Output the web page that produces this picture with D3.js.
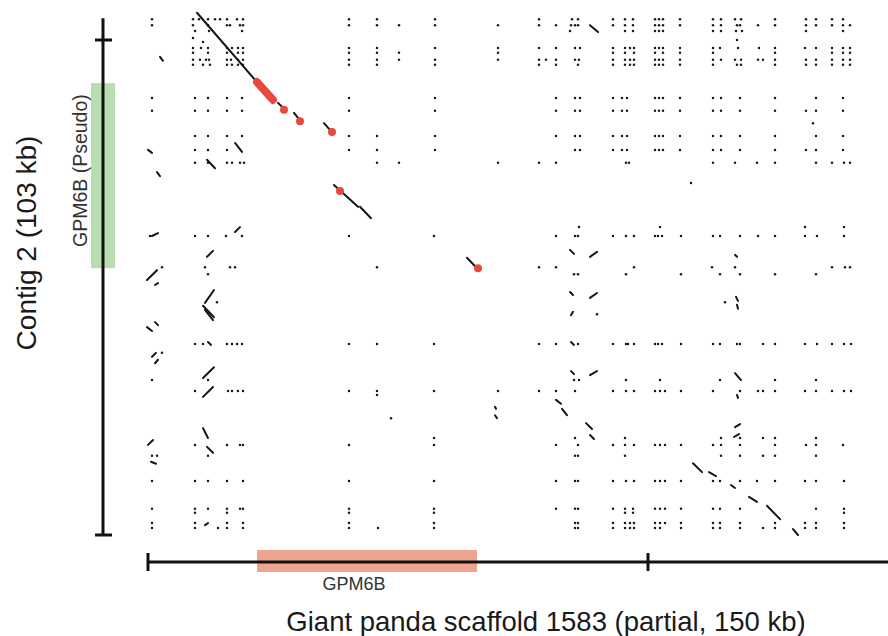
<!DOCTYPE html>
<html>
<head>
<meta charset="utf-8">
<script src="https://cdn.jsdelivr.net/npm/d3@7"></script>
<style>
  body { margin: 0; background: #fff; }
  svg { display: block; font-family: "Liberation Sans", Arial, sans-serif; }
</style>
</head>
<body>
<div id="chart"></div>
<script>
'use strict';

// All positions in kb: x = giant panda scaffold 1583, y = contig 2
const xTicks = [0, 100];
const yTicks = [0, 100];
const xAxisEnd = 150;
const yAxisEnd = 104.4;

const xTitle = 'Giant panda scaffold 1583 (partial, 150 kb)';
const yTitle = 'Contig 2 (103 kb)';

// gene annotations [start, end, label]
const xGene = [21.8, 65.8, 'GPM6B'];
const yGene = [53.9, 91.3, 'GPM6B (Pseudo)'];

// repeat hits, one row per contig position: [y, [x, x, ...]]
const topRows = [
  [104.2, [0.8, 9.0, 10.2, 12.0, 13.4, 14.4, 15.8, 17.8, 19.0, 40.2, 45.8, 57.4, 78.2, 84.8, 86.0, 93.0, 95.4, 97.0, 101.4, 102.2, 103.0, 106.4, 113.0, 114.6, 117.4, 118.6, 125.4, 131.6, 133.6, 136.8, 139.0]],
  [103.0, [0.8, 9.0, 12.0, 15.8, 16.4, 18.4, 19.0, 40.2, 45.8, 50.2, 57.4, 70.0, 78.2, 81.6, 84.6, 85.4, 86.0, 93.0, 95.4, 97.0, 101.4, 102.2, 103.0, 106.4, 113.0, 114.6, 117.8, 118.4, 122.0, 125.4, 131.6, 133.6, 136.8, 139.0, 140.4]],
  [101.8, [9.4, 12.2, 18.8, 84.4, 95.4, 97.0, 101.4, 102.2, 103.0, 113.0, 114.6, 117.6, 118.8, 131.6, 139.0]],
  [100.4, [9.0]],
  [100.0, [117.8]],
  [99.6, [11.0]],
];

const upperRows = [
  [98.4, [9.0, 10.6, 12.0, 15.8, 16.8, 18.0, 19.0, 40.2, 45.8, 57.4, 70.0, 78.2, 81.6, 85.4, 86.4, 93.0, 95.4, 96.4, 97.2, 101.4, 102.2, 103.0, 106.4, 113.0, 114.4, 118.0, 122.2, 125.4, 131.4, 133.6, 136.8, 139.0, 140.4]],
  [97.4, [9.0, 12.0, 15.8, 18.0, 19.0, 40.2, 45.8, 50.2, 70.0, 93.0, 95.4, 97.2, 101.4, 103.0, 106.4, 113.0, 125.4, 136.8, 139.0, 140.4]],
  [96.0, [9.0, 10.4, 11.6, 12.2, 15.8, 16.6, 18.0, 19.0, 40.2, 45.8, 50.2, 57.4, 70.0, 78.2, 79.6, 81.6, 85.4, 86.2, 93.0, 95.4, 96.4, 97.2, 101.4, 102.2, 103.0, 106.4, 113.0, 114.6, 117.4, 118.6, 122.0, 123.0, 125.4, 131.6, 133.6, 136.8, 139.0, 140.4]],
  [95.0, [9.0, 11.0, 12.4, 15.8, 16.8, 18.0, 19.0, 40.2, 45.8, 57.4, 78.2, 81.6, 86.0, 93.0, 95.4, 96.4, 97.2, 101.4, 102.2, 103.0, 106.4, 113.0, 117.8, 118.6, 125.4, 131.6, 133.6, 136.8, 139.0, 140.4]],
  [88.3, [0.8, 9.4, 12.0, 15.8, 18.8, 40.2, 57.4, 81.6, 85.4, 86.4, 93.0, 94.8, 95.8, 101.4, 102.2, 103.0, 106.4, 113.0, 114.6, 118.4, 125.4, 133.6, 139.0]],
  [85.7, [0.8, 9.4, 12.0, 15.8, 18.8, 40.2, 57.4, 81.6, 85.4, 86.4, 93.0, 94.8, 95.8, 101.4, 102.2, 103.0, 106.4, 113.0, 114.6, 118.4, 125.4, 131.6, 133.6, 139.0]],
  [83.2, [133.0]],
  [80.6, [9.4, 12.0, 15.8, 18.8, 40.2, 45.8, 57.4, 81.6, 85.4, 86.4, 93.0, 94.8, 95.8, 101.4, 102.2, 103.0, 106.4, 113.0, 114.6, 118.4, 125.4, 133.6, 139.0]],
  [77.8, [9.4, 12.0, 15.8, 40.2, 45.8, 57.4, 85.4, 86.4, 93.0, 94.8, 95.8, 101.4, 102.2, 103.0, 106.4, 113.0, 114.6, 118.4, 125.4, 131.6, 133.6, 139.0]],
  [75.2, [9.4, 12.0, 15.8, 16.8, 18.4, 19.2, 45.8, 50.2, 70.0, 78.2, 81.6, 95.6, 96.2, 113.0, 117.4, 121.8, 125.4, 133.6, 136.8, 139.2, 140.4]],
  [71.1, [108.6]],
];

const middleRows = [
  [62.2, [86.2, 102.4, 131.4, 139.2]],
  [60.4, [0.4, 9.4, 12.0, 15.6, 18.8, 40.2, 57.2, 81.6, 85.4, 86.0, 93.0, 95.6, 97.2, 101.4, 102.0, 102.8, 106.6, 113.0, 114.4, 118.4, 122.0, 125.4, 131.4, 133.8, 139.2]],
  [54.1, [2.8, 11.4, 16.4, 17.4, 45.8, 78.2, 81.6, 97.2, 112.8, 117.4, 136.8, 139.4, 140.4]],
  [52.7, [12.0, 85.2, 86.0, 95.6, 106.6, 114.4, 118.4, 125.4, 133.6]],
  [47.0, [13.8, 115.4]],
  [44.6, [89.8]],
  [38.6, [9.4, 11.0, 15.8, 16.8, 17.8, 18.8, 40.2, 45.8, 57.2, 78.2, 81.6, 86.0, 93.0, 95.6, 96.0, 97.2, 101.4, 102.0, 102.8, 106.6, 113.0, 114.4, 117.8, 118.4, 123.0, 125.4, 131.4, 133.8, 136.8, 139.2, 140.6]],
  [36.8, [2.8]],
  [31.3, [0.8, 12.0, 85.2, 86.2, 95.6, 102.4, 114.4, 125.4, 133.6]],
  [29.1, [9.4, 16.0, 16.8, 18.0, 19.0, 40.2, 45.8, 57.2, 70.0, 78.2, 81.6, 85.4, 93.0, 95.6, 97.2, 101.4, 102.4, 103.4, 106.6, 113.0, 118.4, 122.0, 123.0, 125.4, 131.4, 133.6, 136.8, 139.2, 140.6]],
  [28.3, [45.8]],
  [23.6, [48.6]],
];

const lowerRows = [
  [19.6, [57.2, 85.4, 95.4, 114.6, 118.4, 123.0, 125.4, 133.6]],
  [18.2, [9.4, 15.8, 18.4, 19.0, 40.2, 57.2, 81.6, 86.0, 93.0, 95.4, 97.2, 101.4, 102.4, 103.4, 106.6, 113.0, 114.6, 118.4, 125.4, 131.6, 133.6, 139.0]],
  [16.0, [0.8, 1.8, 12.0, 85.4, 86.0, 95.4, 114.6, 118.4, 123.0, 125.4, 133.6]],
  [10.9, [0.8, 9.4, 12.0, 15.8, 19.0, 40.2, 57.2, 81.6, 85.4, 86.0, 93.0, 95.6, 97.2, 101.4, 102.4, 103.4, 106.6, 113.0, 114.4, 118.4, 121.8, 125.4, 131.4, 133.6, 139.2]],
  [5.3, [0.8, 9.4, 12.0, 15.8, 18.4, 19.0, 40.2, 57.2, 81.6, 85.4, 86.0, 93.0, 95.4, 97.0, 101.4, 102.4, 103.4, 106.6, 113.0, 114.4, 118.4, 133.6, 139.2]],
  [4.5, [9.4, 15.8, 40.2, 57.2, 95.4, 97.0, 139.2]],
  [2.4, [0.8, 9.4, 15.8, 19.0, 40.2, 57.2, 85.4, 86.0, 93.0, 95.4, 96.4, 97.2, 101.4, 102.4, 103.4, 106.6, 113.0, 114.4, 118.4, 125.4, 131.4, 133.6, 139.2]],
  [1.4, [0.8, 9.4, 14.0, 15.8, 19.0, 40.2, 46.0, 57.2, 85.4, 86.0, 93.0, 95.4, 96.4, 97.2, 101.4, 102.4, 106.6, 113.0, 114.4, 118.4, 123.0, 125.4, 131.4, 133.6, 139.2]],
];

// short repeat matches [x1, y1, x2, y2]
const shortHits = [
  [88.4, 103.0, 90.0, 101.6], [2.4, 96.6, 3.0, 95.8], [11.8, 75.8, 13.4, 74.1],
  [17.4, 79.2, 18.8, 77.4], [0.0, 77.8, 0.8, 77.2], [1.8, 73.3, 2.4, 72.5],
  [0.8, 60.4, 2.0, 61.0], [17.4, 61.2, 18.4, 62.2], [-0.2, 51.5, 1.8, 53.5],
  [1.4, 50.5, 2.0, 50.9], [11.8, 56.2, 13.0, 57.4], [84.4, 57.6, 85.2, 56.8],
  [88.4, 56.2, 89.8, 57.2], [117.4, 56.6, 117.8, 56.2], [11.4, 46.9, 13.2, 49.5],
  [11.0, 46.3, 13.2, 44.0], [11.4, 45.5, 13.0, 43.4], [84.4, 49.1, 85.0, 48.5],
  [88.4, 47.9, 89.8, 48.9], [84.6, 44.4, 85.0, 45.1], [117.6, 48.1, 118.0, 47.3],
  [117.8, 46.5, 118.0, 45.7], [-0.2, 42.0, 0.8, 41.2], [1.4, 43.0, 2.0, 42.4],
  [12.0, 39.0, 12.6, 38.4], [84.6, 39.0, 85.2, 38.4], [0.8, 36.0, 1.6, 36.8],
  [1.4, 34.7, 2.0, 35.4], [11.0, 31.7, 13.2, 33.9], [11.0, 27.9, 13.0, 29.9],
  [84.6, 33.1, 85.2, 32.5], [88.4, 32.3, 89.8, 33.1], [117.4, 32.7, 118.6, 31.3],
  [117.8, 28.3, 118.0, 27.7], [0.0, 18.2, 1.0, 19.2], [11.0, 21.6, 12.0, 19.6],
  [11.8, 17.8, 13.0, 16.6], [117.4, 21.8, 118.4, 22.4], [117.2, 19.8, 118.2, 20.4],
  [11.4, 2.0, 12.0, 2.4], [0.6, 14.8, 1.6, 14.4],
];

// collinear alignment segments [x1, y1, x2, y2]
const alignments = [
  [9.8, 105.5, 21.8, 91.5], [26.0, 87.3, 27.0, 86.3], [29.2, 85.3, 30.2, 84.0],
  [35.2, 83.2, 36.6, 81.6], [37.2, 70.7, 42.0, 66.3], [42.4, 66.3, 44.6, 64.0],
  [63.8, 56.0, 65.8, 53.9],
  [69.4, 25.9, 69.6, 25.5], [69.4, 24.2, 69.8, 23.6], [81.6, 27.3, 82.6, 26.5],
  [82.8, 25.5, 83.8, 24.2], [87.6, 22.6, 88.8, 21.4], [88.4, 20.2, 89.2, 19.4],
  [109.0, 14.5, 110.8, 12.7], [112.2, 12.7, 113.6, 11.9], [116.6, 10.1, 117.4, 9.5],
  [120.2, 7.7, 121.8, 6.7], [123.8, 5.9, 126.4, 3.2], [129.0, 1.2, 130.0, 0.0],
];

// GPM6B exon matches, highlighted in red
const exonRuns = [[21.8, 91.5, 25.0, 87.9]];
const exonPoints = [[27.2, 85.9], [30.4, 83.6], [36.8, 81.4], [38.4, 69.5], [66.0, 53.9]];

const width = 888;
const height = 636;

const x = d3.scaleLinear().domain([0, 100]).range([148, 648]);
const y = d3.scaleLinear().domain([0, 100]).range([535, 40]);

const svg = d3.select('#chart')
  .append('svg')
  .attr('width', width)
  .attr('height', height)
  .style('background', '#fff');

// gene bands
svg.append('rect')
  .attr('x', 91)
  .attr('width', 24)
  .attr('y', y(yGene[1]))
  .attr('height', y(yGene[0]) - y(yGene[1]))
  .attr('fill', '#b8ddb0');

svg.append('rect')
  .attr('x', x(xGene[0]))
  .attr('width', x(xGene[1]) - x(xGene[0]))
  .attr('y', 550)
  .attr('height', 22)
  .attr('fill', '#eca58f');

// axis lines
const axisColor = '#111';
svg.append('line')
  .attr('x1', x(0)).attr('x2', x(xAxisEnd))
  .attr('y1', 562).attr('y2', 562)
  .attr('stroke', axisColor).attr('stroke-width', 3);

svg.selectAll('.x-tick')
  .data(xTicks)
  .join('line')
  .attr('class', 'x-tick')
  .attr('x1', (d) => x(d)).attr('x2', (d) => x(d))
  .attr('y1', 553).attr('y2', 571)
  .attr('stroke', axisColor).attr('stroke-width', 3);

svg.append('line')
  .attr('x1', 103).attr('x2', 103)
  .attr('y1', y(0)).attr('y2', y(yAxisEnd))
  .attr('stroke', axisColor).attr('stroke-width', 3);

svg.selectAll('.y-tick')
  .data(yTicks)
  .join('line')
  .attr('class', 'y-tick')
  .attr('x1', 95).attr('x2', 112)
  .attr('y1', (d) => y(d)).attr('y2', (d) => y(d))
  .attr('stroke', axisColor).attr('stroke-width', 3);

// repeat hit dots
const dots = [...topRows, ...upperRows, ...middleRows, ...lowerRows]
  .flatMap(([yv, xs]) => xs.map((xv) => [xv, yv]));

svg.append('g')
  .selectAll('circle')
  .data(dots)
  .join('circle')
  .attr('cx', (d) => x(d[0]))
  .attr('cy', (d) => y(d[1]))
  .attr('r', 1.25)
  .attr('fill', '#1a1a1a');

const drawSegments = (data, color, w) => {
  svg.append('g')
    .selectAll('line')
    .data(data)
    .join('line')
    .attr('x1', (d) => x(d[0]))
    .attr('y1', (d) => y(d[1]))
    .attr('x2', (d) => x(d[2]))
    .attr('y2', (d) => y(d[3]))
    .attr('stroke', color)
    .attr('stroke-width', w)
    .attr('stroke-linecap', 'round');
};

drawSegments(shortHits, '#151515', 2);
drawSegments(alignments, '#151515', 2);
drawSegments(exonRuns, '#e8493b', 8);

svg.append('g')
  .selectAll('circle')
  .data(exonPoints)
  .join('circle')
  .attr('cx', (d) => x(d[0]))
  .attr('cy', (d) => y(d[1]))
  .attr('r', 4)
  .attr('fill', '#e8493b');

// labels
svg.append('text')
  .attr('x', (x(xGene[0]) + x(xGene[1])) / 2 - 13)
  .attr('y', 590)
  .attr('text-anchor', 'middle')
  .attr('font-size', 18)
  .attr('fill', '#333')
  .text(xGene[2]);

svg.append('text')
  .attr('transform', `translate(87, ${(y(yGene[0]) + y(yGene[1])) / 2 - 5}) rotate(-90)`)
  .attr('text-anchor', 'middle')
  .attr('font-size', 19.5)
  .attr('fill', '#333')
  .text(yGene[2]);

svg.append('text')
  .attr('x', 546)
  .attr('y', 631)
  .attr('text-anchor', 'middle')
  .attr('font-size', 27.5)
  .attr('fill', '#1a1a1a')
  .text(xTitle);

svg.append('text')
  .attr('transform', 'translate(36, 243) rotate(-90)')
  .attr('text-anchor', 'middle')
  .attr('font-size', 28)
  .attr('fill', '#1a1a1a')
  .text(yTitle);
</script>
</body>
</html>
